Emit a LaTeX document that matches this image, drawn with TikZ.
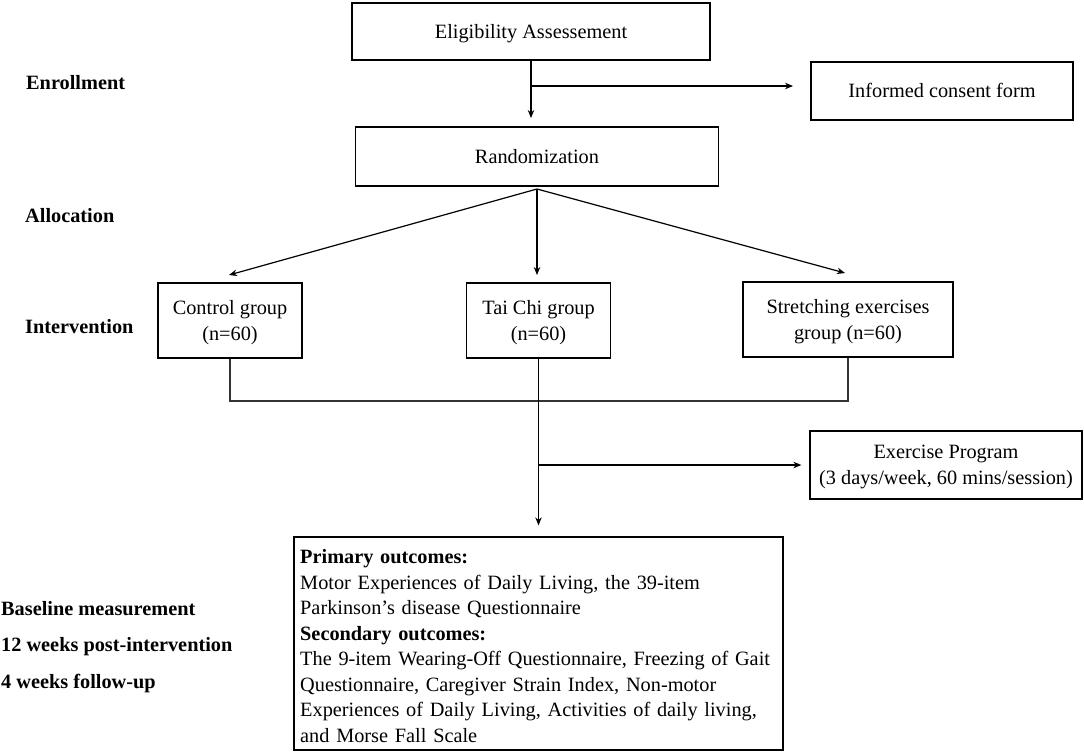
\documentclass[tikz,border=0pt]{standalone}
\usepackage{fontspec}
\setmainfont{Liberation Serif}
\usetikzlibrary{arrows.meta}
\begin{document}
\begin{tikzpicture}[x=1pt,y=-1pt,
  every node/.style={font=\fontsize{20.3}{25.5}\selectfont},
  box/.style={draw, line width=1.3pt, inner sep=0pt, align=center},
  one/.style={text height=13.5pt, text depth=0pt},
  two/.style={text depth=0pt},
  lbl/.style={anchor=west, font=\fontsize{20.3}{25.5}\selectfont\bfseries, inner sep=0pt},
  arr/.style={-{Stealth[length=8pt,width=6.5pt]}, line width=1.2pt},
  ln/.style={line width=1.3pt, draw=black!80}]
\useasboundingbox (0,0) rectangle (1084,753);
% boxes
\node[box, one, minimum width=358pt, minimum height=57pt] (elig) at (531,31.5) {Eligibility Assessement};
\node[box, one, minimum width=262pt, minimum height=58pt] (cons) at (942,91) {Informed consent form};
\node[box, one, minimum width=363pt, minimum height=59pt] (rand) at (537,156.5) {Randomization};
\node[box, two, minimum width=144pt, minimum height=75pt] (ctrl) at (230,320.5) {Control group\\(n=60)};
\node[box, two, minimum width=144pt, minimum height=75pt] (tai) at (538.5,320.5) {Tai Chi group\\(n=60)};
\node[box, two, minimum width=210pt, minimum height=75pt] (str) at (848,319.5) {Stretching exercises\\group (n=60)};
\node[box, two, minimum width=272pt, minimum height=68pt] (ex) at (946,465) {Exercise Program\\(3 days/week, 60 mins/session)};
\node[box, minimum width=489pt, minimum height=213pt] (out) at (538.5,643.5) {};
\node[anchor=north west, align=left, text width=480pt, inner sep=0pt] (outtxt) at (300,549.5)
  {\textbf{Primary outcomes:}\\
   Motor Experiences of Daily Living, the 39-item\\
   Parkinson’s disease Questionnaire\\
   \textbf{Secondary outcomes:}\\
   The 9-item Wearing-Off Questionnaire, Freezing of Gait\\
   Questionnaire, Caregiver Strain Index, Non-motor\\
   Experiences of Daily Living, Activities of daily living,\\
   and Morse Fall Scale};
% stage labels
\node[lbl] (enr) at (26,83) {Enrollment};
\node[lbl] (alloc) at (25,216) {Allocation};
\node[lbl] (interv) at (25,327) {Intervention};
\node[lbl] (base) at (1,609) {Baseline measurement};
\node[lbl] (post) at (1,647) {12 weeks post-intervention};
\node[lbl] (fol) at (1,684) {4 weeks follow-up};
% connectors
\coordinate (a1) at (531,118);
\draw[arr] (elig.south) -- (a1);
\coordinate (b0) at (531,86);
\coordinate (b1) at (793,86);
\draw[arr] (b0) -- (b1);
\coordinate (apex) at (537,189);
\coordinate (fc) at (229,275);
\coordinate (ft) at (537,275);
\coordinate (fs) at (845,273);
\draw[arr] (apex) -- (fc);
\draw[arr] (apex) -- (ft);
\draw[arr] (apex) -- (fs);
\coordinate (hl) at (229,401);
\draw[ln] (ctrl.south) -- (ctrl.south |- hl) -| (str.south);
\draw[arr] (tai.south) -- ([yshift=11pt]out.north);
\coordinate (e0) at (538.5,465);
\draw[arr] (e0) -- ([xshift=-8pt]ex.west);
\end{tikzpicture}
\end{document}
